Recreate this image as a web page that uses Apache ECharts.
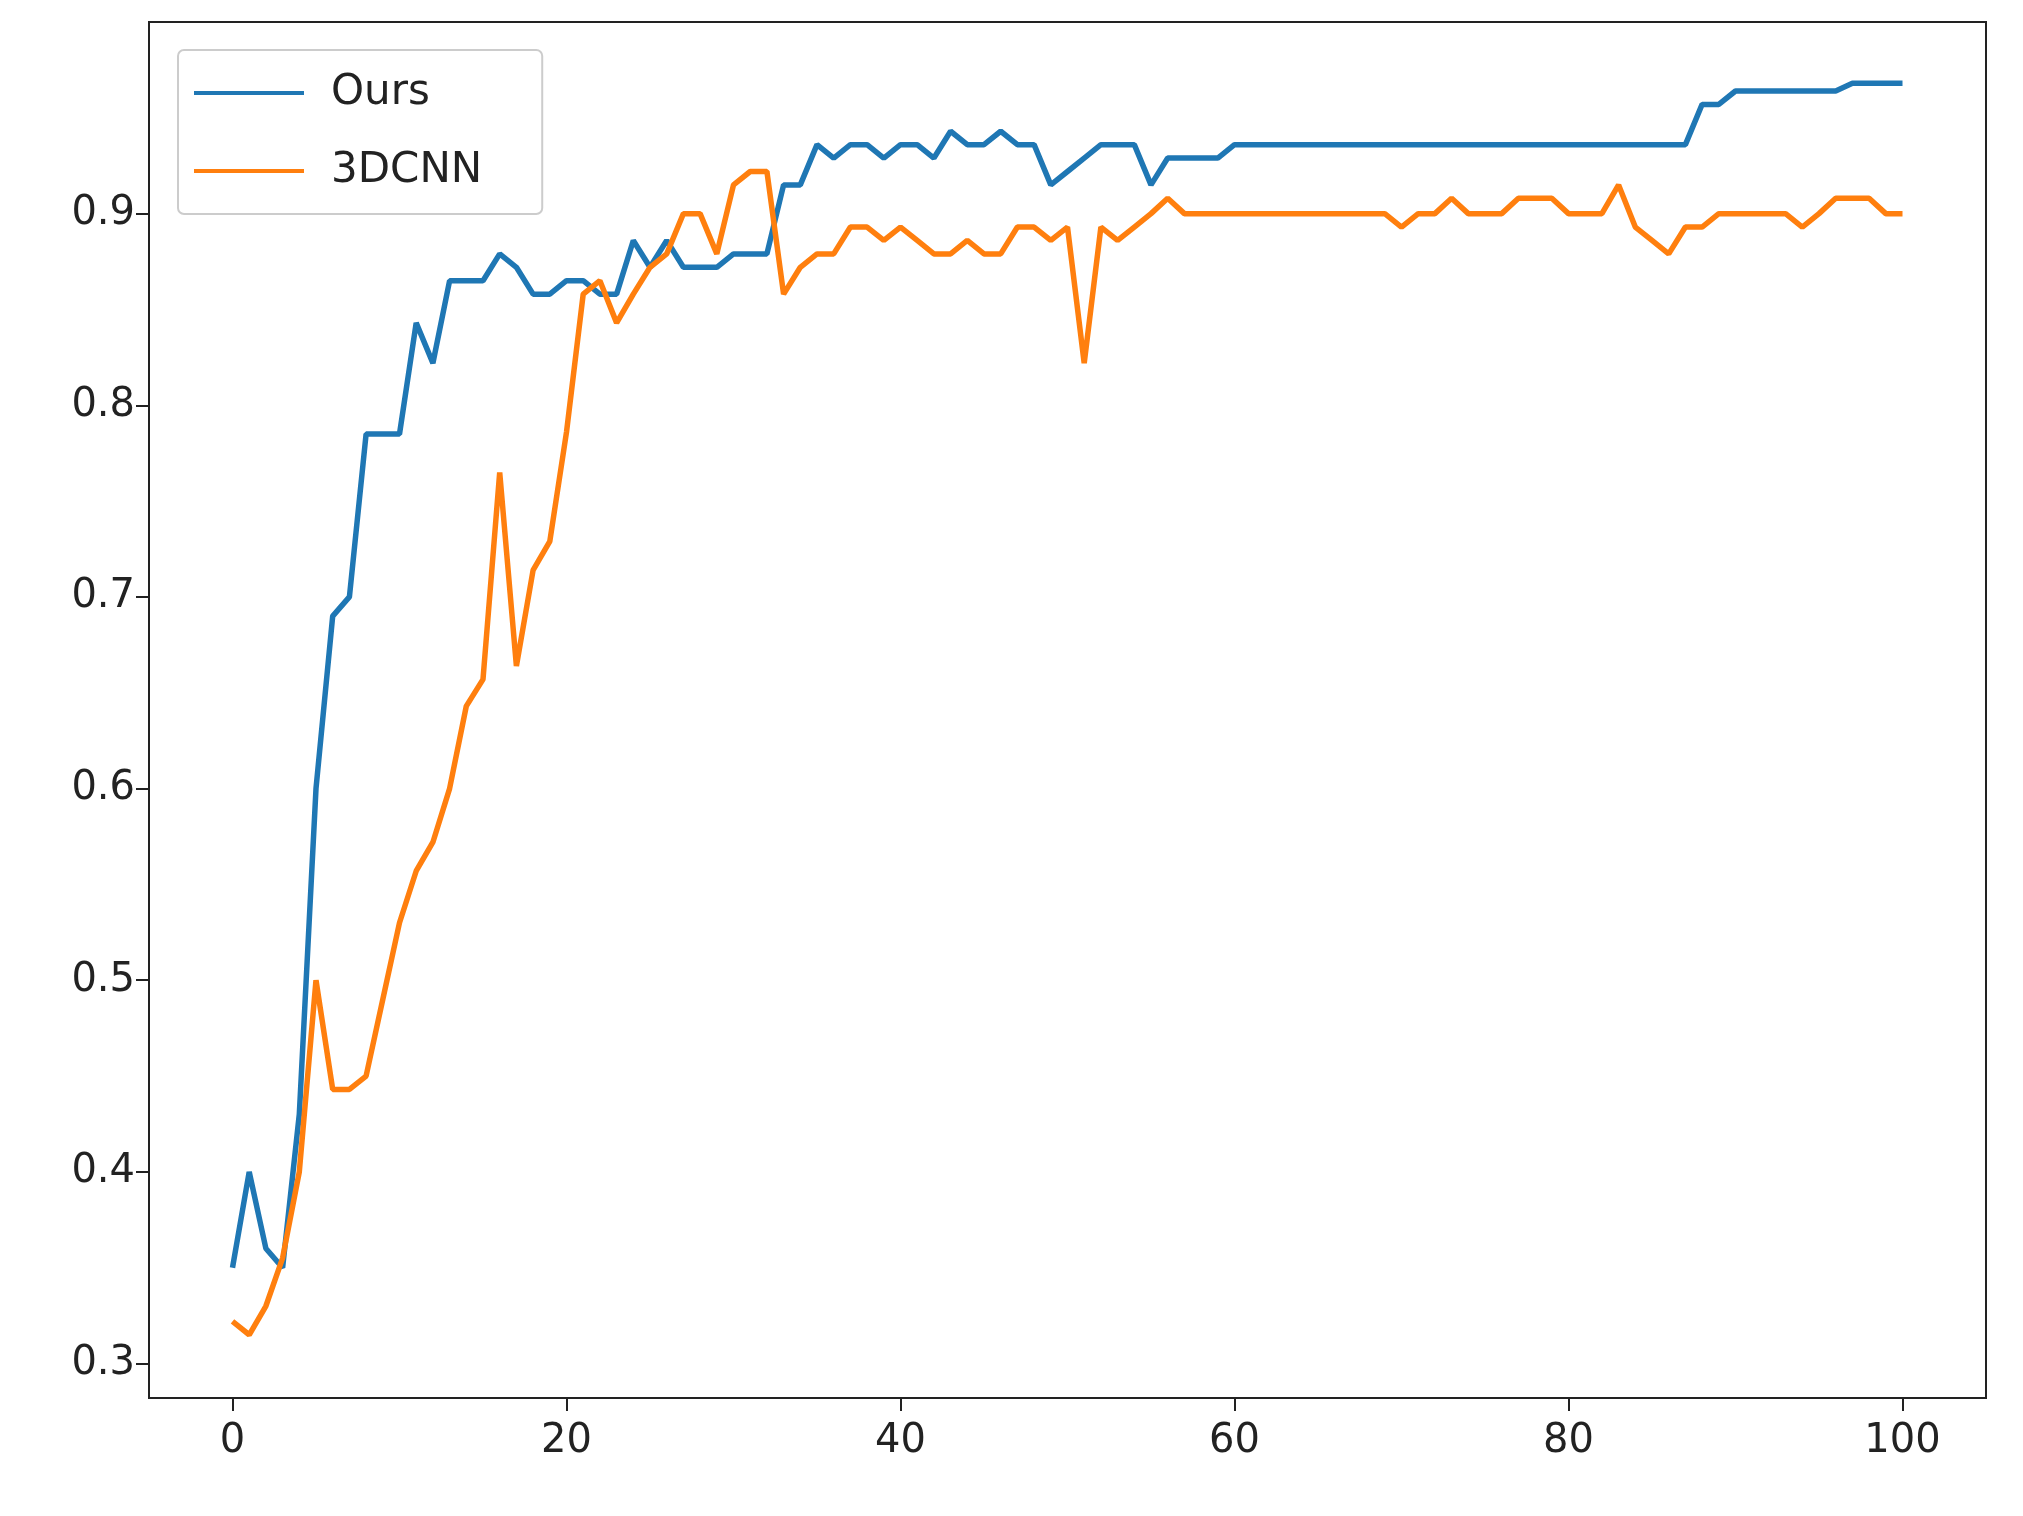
<!DOCTYPE html>
<html lang="en">
<head>
  <meta charset="UTF-8">
  <title>Ours vs 3DCNN</title>
  <style>
    html, body { margin: 0; background: #fff; }
    #myEcharts { width: 2023px; height: 1516px; }
  </style>
  <script src="https://cdn.jsdelivr.net/npm/echarts@6/dist/echarts.min.js"></script>
</head>
<body>
  <div id="myEcharts"></div>
  <script>
    // 数据：epoch 0..100
    var ours = [0.35, 0.40, 0.36, 0.35, 0.43, 0.60, 0.69, 0.70, 0.785, 0.785,
      0.785, 0.843, 0.822, 0.865, 0.865, 0.865, 0.879, 0.872, 0.858, 0.858,
      0.865, 0.865, 0.858, 0.858, 0.886, 0.872, 0.886, 0.872, 0.872, 0.872,
      0.879, 0.879, 0.879, 0.915, 0.915, 0.936, 0.929, 0.936, 0.936, 0.929,
      0.936, 0.936, 0.929, 0.943, 0.936, 0.936, 0.943, 0.936, 0.936, 0.915,
      0.922, 0.929, 0.936, 0.936, 0.936, 0.915, 0.929, 0.929, 0.929, 0.929,
      0.936, 0.936, 0.936, 0.936, 0.936, 0.936, 0.936, 0.936, 0.936, 0.936,
      0.936, 0.936, 0.936, 0.936, 0.936, 0.936, 0.936, 0.936, 0.936, 0.936,
      0.936, 0.936, 0.936, 0.936, 0.936, 0.936, 0.936, 0.936, 0.957, 0.957,
      0.964, 0.964, 0.964, 0.964, 0.964, 0.964, 0.964, 0.968, 0.968, 0.968,
      0.968];
    var cnn3d = [0.322, 0.315, 0.33, 0.355, 0.40, 0.50, 0.443, 0.443, 0.45, 0.49,
      0.53, 0.557, 0.572, 0.60, 0.643, 0.657, 0.765, 0.664, 0.714, 0.729,
      0.786, 0.858, 0.865, 0.843, 0.858, 0.872, 0.879, 0.900, 0.900, 0.879,
      0.915, 0.922, 0.922, 0.858, 0.872, 0.879, 0.879, 0.893, 0.893, 0.886,
      0.893, 0.886, 0.879, 0.879, 0.886, 0.879, 0.879, 0.893, 0.893, 0.886,
      0.893, 0.822, 0.893, 0.886, 0.893, 0.900, 0.908, 0.900, 0.900, 0.900,
      0.900, 0.900, 0.900, 0.900, 0.900, 0.900, 0.900, 0.900, 0.900, 0.900,
      0.893, 0.900, 0.900, 0.908, 0.900, 0.900, 0.900, 0.908, 0.908, 0.908,
      0.900, 0.900, 0.900, 0.915, 0.893, 0.886, 0.879, 0.893, 0.893, 0.900,
      0.900, 0.900, 0.900, 0.900, 0.893, 0.900, 0.908, 0.908, 0.908, 0.900,
      0.900];
    var xTicks = [0, 20, 40, 60, 80, 100];
    var yTicks = [0.3, 0.4, 0.5, 0.6, 0.7, 0.8, 0.9];

    function pairs(arr) { return arr.map(function (v, i) { return [i, v]; }); }

    var myChart = echarts.init(document.getElementById('myEcharts'));
    var font = 'DejaVu Sans';
    var axisLine = { show: true, onZero: false, lineStyle: { color: '#222', width: 2 } };
    var option = {
      animation: false,
      grid: { left: 149, right: 37, top: 22, bottom: 118, show: true, borderColor: '#222', borderWidth: 2 },
      legend: {
        orient: 'vertical', left: 178, top: 50,
        itemWidth: 110, itemHeight: 4, itemGap: 36,
        padding: [22, 60, 22, 16],
        borderColor: '#ccc', borderWidth: 2, borderRadius: 6,
        backgroundColor: '#fff',
        icon: 'rect',
        textStyle: { fontFamily: font, fontSize: 42, color: '#222', padding: [0, 0, 0, 22] },
        data: ['Ours', '3DCNN']
      },
      xAxis: {
        type: 'value', min: -5, max: 105,
        axisLine: axisLine,
        splitLine: { show: false },
        axisTick: { show: true, customValues: xTicks, length: 13, lineStyle: { color: '#222', width: 2 } },
        axisLabel: { customValues: xTicks, fontFamily: font, fontSize: 40, color: '#222', margin: 24 }
      },
      yAxis: {
        type: 'value', min: 0.282, max: 1.0,
        axisLine: axisLine,
        splitLine: { show: false },
        axisTick: { show: true, customValues: yTicks, length: 13, lineStyle: { color: '#222', width: 2 } },
        axisLabel: { customValues: yTicks, fontFamily: font, fontSize: 40, color: '#222', margin: 14,
          formatter: function (v) { return v.toFixed(1); } }
      },
      series: [
        { name: 'Ours', type: 'line', data: pairs(ours), showSymbol: false,
          itemStyle: { color: '#1f77b4' }, lineStyle: { color: '#1f77b4', width: 5.5 } },
        { name: '3DCNN', type: 'line', data: pairs(cnn3d), showSymbol: false,
          itemStyle: { color: '#ff7f0e' }, lineStyle: { color: '#ff7f0e', width: 5.5 } }
      ]
    };
    myChart.setOption(option);
  </script>
</body>
</html>
